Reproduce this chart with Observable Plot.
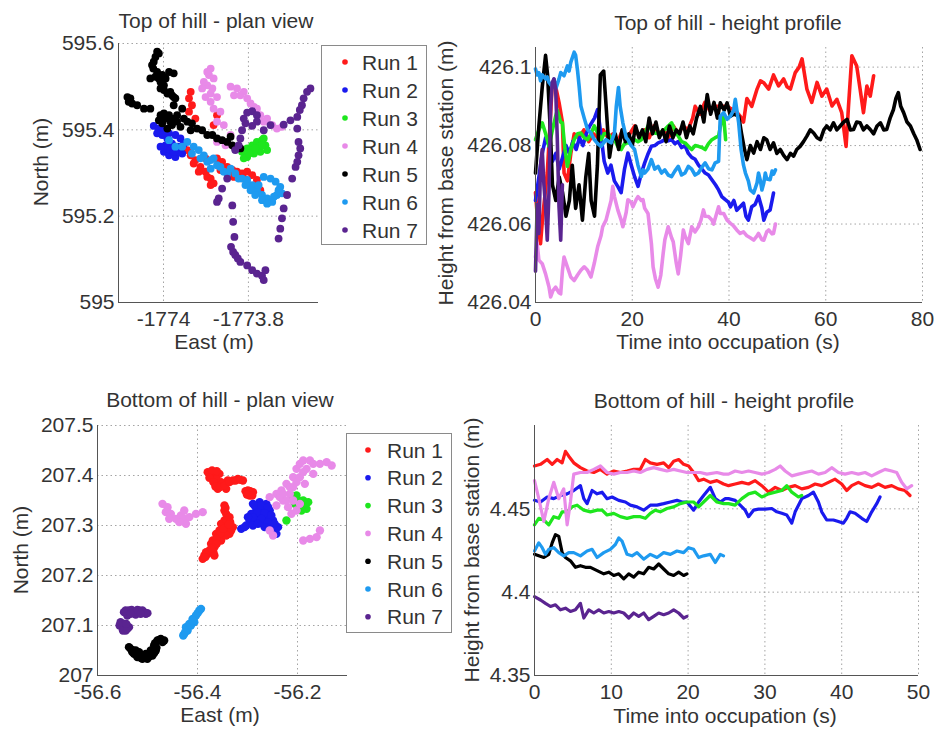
<!DOCTYPE html>
<html><head><meta charset="utf-8">
<script src="https://cdn.jsdelivr.net/npm/d3@7"></script>
<script src="https://cdn.jsdelivr.net/npm/@observablehq/plot@0.6"></script>
<style>
body{margin:0;background:#fff;}
#fig{position:relative;width:936px;height:729px;overflow:hidden;background:#fff;}
</style></head>
<body><div id="fig"></div>
<script>
const FONT = "'Liberation Sans', Arial, Helvetica, sans-serif";
const runNames = ["Run 1","Run 2","Run 3","Run 4","Run 5","Run 6","Run 7"];
const runColors = ["#ff1a1a","#1a1aee","#1ee61e","#e88ae8","#000000","#1e9af0","#5a2490"];

const panelTitles = ["Top of hill - plan view","Top of hill - height profile","Bottom of hill - plan view","Bottom of hill - height profile"];
const eastLabel = "East (m)", northLabel = "North (m)";
const timeLabel = "Time into occupation (s)", heightLabel = "Height from base station (m)";

// ---------- ticks ----------
const topPlanEastTicks = [-1774, -1773.8];
const topPlanNorthTicks = [595, 595.2, 595.4, 595.6];
const topHeightTimeTicks = [0, 20, 40, 60, 80];
const topHeightTicks = [426.04, 426.06, 426.08, 426.1];
const bottomPlanEastTicks = [-56.6, -56.4, -56.2];
const bottomPlanNorthTicks = [207, 207.1, 207.2, 207.3, 207.4, 207.5];
const bottomHeightTimeTicks = [0, 10, 20, 30, 40, 50];
const bottomHeightTicks = [4.35, 4.4, 4.45];

// ---------- Top of hill - plan view [East, North] ----------
const topPlanRun1 = [[-1773.944,595.353],[-1773.936,595.341],[-1773.925,595.330],[-1773.913,595.314],[-1773.901,595.303],[-1773.889,595.287],[-1773.882,595.276],[-1773.874,595.334],[-1773.862,595.326],[-1773.850,595.314],[-1773.838,595.307],[-1773.827,595.303],[-1773.815,595.299],[-1773.803,595.303],[-1773.791,595.295],[-1773.780,595.284],[-1773.772,595.260],[-1773.936,595.488],[-1773.940,595.473],[-1773.933,595.457],[-1773.940,595.442],[-1773.925,595.426],[-1773.874,595.434],[-1773.882,595.411],[-1773.901,595.334],[-1773.929,595.322],[-1773.917,595.303],[-1773.897,595.291],[-1773.889,595.272],[-1773.866,595.307],[-1773.846,595.303],[-1773.834,595.291],[-1773.811,595.287]];
const topPlanRun2 = [[-1774.023,595.409],[-1774.011,595.403],[-1773.999,595.399],[-1773.987,595.392],[-1773.972,595.388],[-1773.960,595.380],[-1774.003,595.388],[-1773.991,595.380],[-1773.980,595.368],[-1773.968,595.361],[-1773.999,595.349],[-1773.987,595.341],[-1773.972,595.337],[-1773.956,595.345],[-1773.952,595.368],[-1773.995,595.364],[-1773.984,595.353],[-1773.964,595.349],[-1774.015,595.392],[-1774.007,595.361],[-1773.976,595.349],[-1773.960,595.361]];
const topPlanRun3 = [[-1773.815,595.349],[-1773.803,595.357],[-1773.791,595.364],[-1773.780,595.372],[-1773.768,595.376],[-1773.760,595.364],[-1773.756,595.353],[-1773.772,595.349],[-1773.787,595.345],[-1773.803,595.337],[-1773.811,595.334],[-1773.795,595.353],[-1773.776,595.361],[-1773.764,595.380],[-1773.799,595.345],[-1773.768,595.364],[-1773.784,595.357]];
const topPlanRun4 = [[-1773.889,595.542],[-1773.893,595.527],[-1773.882,595.519],[-1773.897,595.503],[-1773.909,595.496],[-1773.889,595.484],[-1773.874,595.476],[-1773.889,595.465],[-1773.882,595.449],[-1773.866,595.442],[-1773.874,595.419],[-1773.858,595.411],[-1773.842,595.500],[-1773.827,595.496],[-1773.811,595.488],[-1773.803,595.473],[-1773.795,595.461],[-1773.780,595.449],[-1773.772,595.434],[-1773.756,595.426],[-1773.744,595.411],[-1773.733,595.403],[-1773.721,595.407],[-1773.842,595.388],[-1773.874,595.372],[-1773.854,595.364],[-1773.834,595.480],[-1773.905,595.511],[-1773.897,595.534],[-1773.885,595.496],[-1773.901,595.476],[-1773.819,595.480],[-1773.787,595.453],[-1773.764,595.419]];
const topPlanRun5 = [[-1774.011,595.577],[-1774.015,595.581],[-1774.023,595.558],[-1774.027,595.550],[-1774.015,595.534],[-1774.031,595.519],[-1774.007,595.511],[-1773.987,595.534],[-1773.976,595.531],[-1774.007,595.496],[-1773.991,595.484],[-1773.976,595.476],[-1773.984,595.488],[-1773.999,595.503],[-1774.019,595.523],[-1774.019,595.569],[-1774.024,595.542],[-1774.003,595.527],[-1773.995,595.519],[-1774.011,595.519],[-1773.999,595.492],[-1773.980,595.480],[-1773.972,595.473],[-1774.085,595.476],[-1774.082,595.465],[-1774.074,595.461],[-1774.062,595.457],[-1774.046,595.449],[-1774.031,595.449],[-1774.078,595.473],[-1774.007,595.434],[-1773.995,595.426],[-1773.984,595.419],[-1773.976,595.457],[-1773.968,595.434],[-1773.956,595.449],[-1773.944,595.419],[-1773.933,595.415],[-1773.921,595.403],[-1773.909,595.399],[-1773.897,595.388],[-1773.885,595.388],[-1773.874,595.380],[-1773.862,595.376],[-1773.850,595.372],[-1773.838,595.364],[-1773.831,595.357],[-1773.819,595.357],[-1773.842,595.384],[-1773.991,595.403],[-1774.003,595.415],[-1773.976,595.426],[-1773.960,595.407],[-1773.936,595.399],[-1774.011,595.422],[-1773.999,595.438],[-1773.987,595.434],[-1773.980,595.411],[-1773.968,595.419],[-1773.952,595.426]];
const topPlanRun6 = [[-1773.987,595.376],[-1773.972,595.361],[-1773.944,595.372],[-1773.929,595.361],[-1773.917,595.353],[-1773.905,595.341],[-1773.897,595.326],[-1773.889,595.310],[-1773.874,595.318],[-1773.858,595.303],[-1773.842,595.310],[-1773.831,595.299],[-1773.815,595.287],[-1773.803,595.284],[-1773.791,595.272],[-1773.780,595.260],[-1773.768,595.249],[-1773.756,595.241],[-1773.744,595.233],[-1773.733,595.249],[-1773.725,595.268],[-1773.736,595.280],[-1773.748,595.287],[-1773.764,595.291],[-1773.776,595.272],[-1773.721,595.253],[-1773.913,595.334],[-1773.882,595.334],[-1773.956,595.361],[-1773.933,595.345],[-1773.889,595.330],[-1773.866,595.314],[-1773.850,595.299],[-1773.823,595.287],[-1773.807,595.272],[-1773.795,595.260],[-1773.784,595.249],[-1773.768,595.237],[-1773.756,595.229],[-1773.740,595.245],[-1773.729,595.260]];
const topPlanRun7 = [[-1773.811,595.426],[-1773.803,595.440],[-1773.791,595.443],[-1773.780,595.434],[-1773.780,595.419],[-1773.791,595.409],[-1773.807,595.415],[-1773.815,595.399],[-1773.819,595.380],[-1773.823,595.364],[-1773.764,595.399],[-1773.748,595.411],[-1773.654,595.496],[-1773.662,595.488],[-1773.670,595.473],[-1773.674,595.457],[-1773.679,595.446],[-1773.685,595.430],[-1773.701,595.422],[-1773.717,595.412],[-1773.685,595.403],[-1773.682,595.372],[-1773.678,595.357],[-1773.682,595.341],[-1773.685,595.326],[-1773.689,595.314],[-1773.697,595.287],[-1773.709,595.249],[-1773.717,595.218],[-1773.721,595.195],[-1773.725,595.171],[-1773.729,595.148],[-1773.831,595.353],[-1773.850,595.287],[-1773.862,595.264],[-1773.870,595.241],[-1773.874,595.233],[-1773.838,595.225],[-1773.836,595.187],[-1773.833,595.152],[-1773.841,595.129],[-1773.836,595.117],[-1773.831,595.110],[-1773.825,595.102],[-1773.819,595.094],[-1773.803,595.086],[-1773.791,595.075],[-1773.780,595.067],[-1773.768,595.062],[-1773.764,595.052],[-1773.760,595.075]];

// ---------- Top of hill - height profile [time s, height m] ----------
const topHeightRun1 = [[0,426.068],[0.5,426.060],[1.04,426.055],[1.5,426.062],[2.43,426.073],[3.13,426.088],[3.47,426.096],[4.17,426.095],[4.86,426.091],[5.56,426.086],[5.9,426.073],[6.6,426.071],[7.3,426.078],[8,426.083],[9,426.082],[10,426.084],[11,426.081],[12,426.083],[13,426.082],[14,426.084],[15,426.082],[16,426.083],[17,426.081],[18,426.084],[19,426.082],[20.5,426.085],[21.5,426.082],[22.5,426.084],[23.5,426.082],[24.5,426.085],[25.5,426.083],[26.5,426.084],[27.5,426.082],[28.5,426.085],[29.5,426.083],[30.5,426.085],[31.5,426.084],[32.5,426.087],[33,426.090],[34,426.088],[35,426.091],[36,426.089],[37,426.090],[38.2,426.090],[39.6,426.090],[40.3,426.0895],[41.3,426.089],[42.3,426.0875],[43,426.086],[43.7,426.092],[44.7,426.090],[45.8,426.0944],[46.5,426.0965],[47.2,426.096],[48.2,426.0944],[49.2,426.098],[50.25,426.0952],[51.3,426.097],[52,426.095],[52.7,426.0944],[53.7,426.0986],[54.5,426.100],[55.1,426.1021],[56.1,426.0944],[57.1,426.091],[58.2,426.0961],[59.2,426.0926],[60.2,426.0944],[61.3,426.0901],[62.3,426.0918],[63.3,426.0884],[64.2,426.0798],[64.7,426.090],[65.4,426.1029],[66.4,426.1003],[67.1,426.0944],[67.8,426.0884],[68.5,426.0952],[69.2,426.0926],[69.9,426.0978]];
const topHeightRun2 = [[0,426.066],[0.7,426.072],[1.4,426.078],[2.1,426.082],[2.8,426.080],[3.5,426.076],[4.2,426.078],[4.9,426.074],[5.6,426.077],[6.3,426.080],[7,426.078],[7.7,426.081],[8.4,426.079],[9.1,426.082],[9.8,426.080],[10.5,426.083],[11.2,426.085],[12.2,426.087],[12.85,426.0892],[13.5,426.083],[14.2,426.076],[14.93,426.073],[15.6,426.075],[16.3,426.071],[17,426.0696],[17.7,426.068],[18.4,426.074],[19.1,426.0781],[19.8,426.075],[20.5,426.072],[21.2,426.0696],[21.9,426.073],[22.57,426.0756],[23.3,426.078],[23.96,426.0798],[24.65,426.080],[25.35,426.0807],[26,426.081],[26.74,426.0815],[27.4,426.0812],[28.13,426.0815],[28.8,426.0805],[29.5,426.081],[30.2,426.0795],[30.9,426.080],[31.6,426.078],[32.3,426.077],[33,426.0765],[33.7,426.075],[34.4,426.074],[35.07,426.073],[35.76,426.0725],[36.46,426.0713],[37.2,426.070],[37.85,426.0687],[38.5,426.067],[39.24,426.0662],[39.93,426.0655],[40.3,426.0644],[41,426.066],[41.6,426.0635],[42.3,426.0644],[43,426.0653],[43.5,426.062],[44,426.061],[44.7,426.0644],[45.4,426.065],[46.1,426.0671],[46.8,426.064],[47.2,426.061],[47.8,426.063],[48.5,426.0636],[48.9,426.066],[49.2,426.0679]];
const topHeightRun3 = [[0,426.0815],[0.7,426.084],[1.39,426.0858],[2.1,426.083],[2.78,426.0798],[3.5,426.084],[4.17,426.0875],[4.51,426.089],[5.2,426.086],[5.56,426.0858],[6.1,426.079],[6.6,426.0747],[7.3,426.079],[7.99,426.0815],[8.7,426.083],[9.38,426.0832],[10.07,426.082],[10.76,426.0815],[11.46,426.083],[12.15,426.085],[12.85,426.0832],[13.54,426.0815],[14.2,426.083],[14.93,426.0832],[15.6,426.082],[16.32,426.0815],[17.01,426.0798],[17.71,426.079],[18.4,426.0805],[19.1,426.0807],[19.79,426.0807],[20.5,426.0815],[21.18,426.081],[21.88,426.0815],[22.57,426.083],[23.26,426.085],[23.96,426.084],[24.65,426.0832],[25.35,426.083],[26.05,426.0835],[26.74,426.0841],[27.43,426.085],[28.13,426.0858],[28.8,426.084],[29.51,426.0824],[30.2,426.081],[30.9,426.0807],[31.6,426.0798],[32.29,426.079],[32.99,426.080],[33.68,426.0798],[34.4,426.0795],[35.07,426.079],[35.76,426.0805],[36.46,426.0815],[37.15,426.082],[37.85,426.0824],[38.5,426.0867],[38.89,426.0875],[39.3,426.0815]];
const topHeightRun4 = [[0,426.0516],[0.35,426.055],[0.7,426.0508],[1.39,426.0499],[2.08,426.0473],[2.78,426.044],[3.13,426.0414],[3.6,426.043],[4.17,426.0439],[4.86,426.0425],[5.21,426.0422],[5.56,426.048],[5.9,426.0516],[6.6,426.049],[7.29,426.0465],[7.99,426.0456],[8.7,426.047],[9.38,426.0482],[10.07,426.0491],[10.76,426.0482],[11.46,426.0465],[12.15,426.050],[12.85,426.0542],[13.54,426.057],[13.89,426.0593],[14.58,426.061],[14.93,426.0627],[15.63,426.066],[15.97,426.0696],[16.32,426.067],[17.01,426.0636],[17.71,426.061],[18.06,426.0593],[18.75,426.063],[19.1,426.0662],[19.79,426.0655],[20.14,426.0644],[20.8,426.0662],[21.18,426.067],[21.88,426.066],[22.22,426.0662],[22.57,426.064],[23.26,426.0627],[23.96,426.055],[24.31,426.0491],[24.8,426.046],[25.35,426.0439],[25.9,426.047],[26.39,426.0525],[26.74,426.056],[27.43,426.0593],[28.13,426.0565],[28.47,426.0555],[29.1,426.050],[29.51,426.0473],[30,426.052],[30.56,426.0585],[30.9,426.057],[31.6,426.055],[32.29,426.0593],[32.99,426.058],[33.68,426.0593],[34.2,426.061],[34.72,426.0636],[35.07,426.062],[35.76,426.0619],[36.46,426.061],[36.81,426.060],[37.85,426.0644],[38.2,426.0627],[38.89,426.0627],[39.6,426.061],[40.3,426.0602],[40.95,426.0595],[41.6,426.0585],[42.3,426.0576],[43,426.058],[43.7,426.057],[44.4,426.0565],[45.1,426.0559],[45.8,426.057],[46.1,426.0576],[46.8,426.056],[47.2,426.0559],[47.8,426.058],[48.2,426.0585],[48.9,426.0575],[49.2,426.0576],[49.6,426.060]];
const topHeightRun5 = [[0,426.073],[0.7,426.085],[1.4,426.095],[2.08,426.103],[2.5,426.098],[3.1,426.083],[3.5,426.070],[4.2,426.066],[4.9,426.072],[5.6,426.068],[6.3,426.062],[7,426.066],[7.6,426.075],[8.3,426.064],[9,426.070],[9.7,426.061],[10.4,426.072],[11,426.078],[11.5,426.066],[12.2,426.062],[12.8,426.075],[13.4,426.098],[14.1,426.099],[14.6,426.090],[15.3,426.077],[15.8,426.081],[16.5,426.083],[17.2,426.079],[17.9,426.084],[18.6,426.081],[19.3,426.083],[20,426.080],[20.7,426.085],[21.4,426.082],[22.1,426.084],[22.8,426.081],[23.5,426.087],[24.2,426.083],[24.9,426.086],[25.6,426.082],[26.3,426.084],[27,426.081],[27.7,426.085],[28.4,426.082],[29.1,426.084],[29.8,426.083],[30.5,426.086],[31.2,426.082],[31.9,426.085],[32.6,426.083],[33.3,426.087],[34.1,426.090],[34.8,426.086],[35.5,426.093],[36.2,426.088],[36.9,426.091],[37.6,426.087],[38.2,426.0909],[39,426.089],[39.6,426.0909],[40.3,426.0875],[41,426.088],[42,426.0875],[42.6,426.083],[43.2,426.079],[43.7,426.0764],[44.4,426.080],[45.1,426.0781],[45.8,426.081],[46.5,426.079],[47.2,426.082],[47.8,426.0815],[48.5,426.079],[49.2,426.0807],[49.9,426.078],[50.6,426.079],[51.3,426.0775],[52,426.0764],[52.7,426.078],[53.35,426.0773],[54,426.079],[54.7,426.0798],[55.4,426.081],[56.1,426.0824],[56.8,426.084],[57.5,426.0832],[58.2,426.082],[58.9,426.0815],[59.6,426.084],[60.2,426.085],[60.9,426.084],[61.6,426.0858],[62.3,426.084],[63,426.085],[63.7,426.086],[64.4,426.0867],[65.1,426.084],[65.75,426.0841],[66.4,426.086],[67.1,426.0858],[67.8,426.084],[68.5,426.085],[69.2,426.0841],[69.9,426.083],[70.6,426.085],[71.3,426.0858],[72,426.084],[72.6,426.0841],[73.3,426.087],[74,426.0892],[74.5,426.092],[75,426.0935],[75.5,426.090],[76.1,426.0884],[76.8,426.086],[77.5,426.085],[78.2,426.083],[78.8,426.0815],[79.5,426.079]];
const topHeightRun6 = [[0,426.0995],[0.35,426.098],[0.7,426.0986],[1.04,426.0965],[1.39,426.098],[2.08,426.097],[2.43,426.0975],[2.78,426.0961],[3.47,426.095],[3.82,426.0969],[4.17,426.0944],[4.86,426.097],[5.21,426.0986],[5.9,426.0978],[6.6,426.1003],[6.94,426.099],[7.29,426.1012],[7.99,426.1038],[8.3,426.103],[8.7,426.099],[9.03,426.095],[9.38,426.0901],[10.07,426.087],[10.76,426.0841],[11.46,426.0832],[12.15,426.0815],[12.85,426.0805],[13.54,426.0798],[14.58,426.0815],[15.63,426.0807],[16.32,426.0832],[16.7,426.090],[17.15,426.0948],[17.5,426.090],[18.06,426.0858],[18.75,426.082],[19.1,426.0815],[19.79,426.080],[20.49,426.079],[21.18,426.075],[21.88,426.0721],[22.22,426.0738],[22.57,426.073],[23.26,426.074],[23.96,426.0764],[24.65,426.074],[25.35,426.0747],[26.05,426.073],[26.74,426.0738],[27.43,426.0725],[28.13,426.0721],[28.8,426.0735],[29.51,426.0747],[30.2,426.0725],[30.9,426.073],[31.6,426.0747],[32.29,426.074],[32.99,426.0725],[33.68,426.073],[34.4,426.0745],[35.07,426.0756],[35.76,426.0741],[36.46,426.0738],[37.15,426.0756],[37.85,426.076],[38.2,426.0875],[38.89,426.0884],[39.6,426.0867],[40.3,426.0875],[40.95,426.089],[41.3,426.0918],[42,426.0858],[42.5,426.079],[43,426.075],[43.4,426.073],[44,426.071],[44.4,426.0687],[45.1,426.0679],[45.8,426.0705],[46.1,426.073],[46.5,426.071],[46.8,426.0687],[47.2,426.0705],[47.5,426.073],[47.8,426.0715],[48.5,426.0713],[48.9,426.0735],[49.2,426.0727],[49.6,426.0738]];
const topHeightRun7 = [[0,426.048],[0.35,426.065],[0.7,426.0576],[1.04,426.075],[1.39,426.079],[1.74,426.070],[2.08,426.0644],[2.43,426.0559],[2.78,426.068],[3.13,426.090],[3.47,426.0961],[3.82,426.097],[4.17,426.0944],[4.51,426.0815],[4.86,426.0644],[5.21,426.0559],[5.56,426.070]];

// ---------- Bottom of hill - plan view [East, North] ----------
const bottomPlanRun1 = [[-56.3762,207.4033],[-56.3662,207.4067],[-56.3561,207.4033],[-56.3695,207.3933],[-56.3628,207.3833],[-56.3595,207.3733],[-56.3494,207.3833],[-56.3394,207.39],[-56.3293,207.39],[-56.3193,207.3933],[-56.3092,207.39],[-56.3427,207.3733],[-56.2992,207.37],[-56.2958,207.36],[-56.2891,207.3667],[-56.3528,207.3867],[-56.3729,207.40],[-56.3628,207.3933],[-56.3796,207.4067],[-56.3709,207.41],[-56.3615,207.4087],[-56.3762,207.3953],[-56.3682,207.3867],[-56.3642,207.378],[-56.3548,207.3767],[-56.3461,207.38],[-56.336,207.3867],[-56.324,207.39],[-56.3146,207.3913],[-56.3039,207.3687],[-56.2945,207.3687],[-56.2905,207.36],[-56.3012,207.362],[-56.3461,207.34],[-56.3427,207.3233],[-56.3461,207.31],[-56.3494,207.2967],[-56.3394,207.2967],[-56.3293,207.2967],[-56.336,207.2833],[-56.3494,207.28],[-56.3595,207.2767],[-56.3695,207.27],[-56.3561,207.29],[-56.3729,207.2633],[-56.3762,207.25],[-56.3863,207.24],[-56.3896,207.2333],[-56.3662,207.24],[-56.3796,207.2433],[-56.3394,207.3067],[-56.336,207.3167],[-56.3528,207.3033],[-56.3427,207.2867],[-56.3628,207.2833],[-56.3528,207.27],[-56.3662,207.2567],[-56.3461,207.33],[-56.3441,207.3353],[-56.3414,207.31],[-56.3347,207.3067],[-56.3327,207.29],[-56.3427,207.28],[-56.3548,207.2833],[-56.3628,207.2733],[-56.3615,207.2633],[-56.3709,207.2567],[-56.3682,207.2467],[-56.3829,207.2467],[-56.3843,207.2367],[-56.3729,207.2533],[-56.3481,207.2933],[-56.3374,207.302]];
const bottomPlanRun2 = [[-56.2891,207.3433],[-56.2757,207.3467],[-56.2623,207.3433],[-56.2824,207.3333],[-56.269,207.3333],[-56.2556,207.33],[-56.2925,207.3233],[-56.2757,207.32],[-56.2623,207.3167],[-56.2489,207.31],[-56.2958,207.31],[-56.2824,207.31],[-56.269,207.3033],[-56.2556,207.2967],[-56.3025,207.30],[-56.3126,207.2933],[-56.2891,207.30],[-56.2422,207.2833],[-56.2389,207.2967],[-56.2858,207.34],[-56.2724,207.34],[-56.259,207.3367],[-56.2791,207.3267],[-56.2657,207.3247],[-56.2523,207.32],[-56.2724,207.3133],[-56.259,207.3067],[-56.2456,207.3033],[-56.2791,207.3033],[-56.2657,207.2967],[-56.2891,207.3167],[-56.2523,207.29],[-56.2992,207.3167],[-56.3059,207.2967]];
const bottomPlanRun3 = [[-56.2121,207.36],[-56.202,207.3533],[-56.1953,207.3467],[-56.1886,207.35],[-56.1786,207.3467],[-56.1819,207.3333],[-56.192,207.33],[-56.2054,207.3433],[-56.2221,207.31],[-56.2087,207.3567],[-56.1987,207.35],[-56.1853,207.3433],[-56.192,207.34],[-56.202,207.36]];
const bottomPlanRun4 = [[-56.47,207.3433],[-56.46,207.3367],[-56.4633,207.3267],[-56.4533,207.3233],[-56.4566,207.3133],[-56.4432,207.3133],[-56.4332,207.32],[-56.4265,207.33],[-56.4231,207.3133],[-56.4164,207.3167],[-56.403,207.3233],[-56.3896,207.3267],[-56.4231,207.3033],[-56.4365,207.3067],[-56.2556,207.3567],[-56.2422,207.3633],[-56.2322,207.37],[-56.2221,207.3833],[-56.2087,207.3967],[-56.202,207.4133],[-56.1953,207.4233],[-56.1886,207.43],[-56.1752,207.43],[-56.1685,207.4233],[-56.1551,207.4233],[-56.1417,207.4267],[-56.1317,207.42],[-56.2154,207.3633],[-56.2288,207.35],[-56.2188,207.3367],[-56.2121,207.3233],[-56.202,207.33],[-56.1953,207.3433],[-56.1853,207.3833],[-56.1685,207.4033],[-56.2489,207.28],[-56.2556,207.29],[-56.1886,207.27],[-56.1752,207.2733],[-56.1618,207.2767],[-56.1551,207.29],[-56.2422,207.34],[-56.2355,207.3567],[-56.2087,207.3767],[-56.202,207.3867],[-56.1953,207.3967],[-56.1886,207.4067],[-56.1819,207.4133],[-56.2288,207.3633],[-56.2221,207.35],[-56.2087,207.35],[-56.2154,207.3767]];
const bottomPlanRun5 = [[-56.5337,207.0533],[-56.527,207.0433],[-56.5203,207.0367],[-56.5102,207.0333],[-56.5002,207.0333],[-56.4901,207.04],[-56.4834,207.05],[-56.4868,207.06],[-56.4801,207.07],[-56.4734,207.0733],[-56.47,207.0667],[-56.5303,207.0467],[-56.5035,207.0433],[-56.4935,207.05],[-56.5236,207.05],[-56.537,207.0567],[-56.529,207.05],[-56.5169,207.04],[-56.5136,207.0353],[-56.5049,207.0367],[-56.4968,207.038],[-56.4868,207.0447],[-56.4821,207.0553],[-56.4848,207.0647],[-56.4767,207.0713],[-56.4667,207.07],[-56.5169,207.0467]];
const bottomPlanRun6 = [[-56.4265,207.0833],[-56.4231,207.0967],[-56.4164,207.1033],[-56.4097,207.1133],[-56.403,207.12],[-56.3963,207.13],[-56.4198,207.09],[-56.4064,207.1067],[-56.4285,207.08],[-56.4131,207.10],[-56.3997,207.1247],[-56.393,207.1333],[-56.4245,207.0867],[-56.4097,207.11]];
const bottomPlanRun7 = [[-56.547,207.1267],[-56.537,207.13],[-56.527,207.1267],[-56.5169,207.13],[-56.5069,207.1267],[-56.5002,207.1247],[-56.5404,207.12],[-56.5236,207.122],[-56.5538,207.1067],[-56.5504,207.0967],[-56.5437,207.09],[-56.537,207.0967],[-56.547,207.1033],[-56.5437,207.13],[-56.5317,207.1313],[-56.5203,207.1313],[-56.5102,207.13],[-56.5035,207.1233],[-56.5337,207.1233],[-56.5136,207.1233],[-56.5558,207.10],[-56.5491,207.09],[-56.5404,207.0933],[-56.5424,207.1033]];

// ---------- Bottom of hill - height profile [time s, height m] ----------
const bottomHeightRun1 = [[0,4.4757],[0.78,4.4767],[1.65,4.4796],[2.3,4.4767],[2.95,4.4796],[3.6,4.4776],[4.03,4.4845],[4.46,4.4816],[5.11,4.4776],[5.98,4.4747],[6.85,4.4727],[7.72,4.4718],[8.58,4.4737],[9.45,4.4708],[10.32,4.4727],[11.18,4.4718],[12.05,4.4727],[12.92,4.4737],[13.78,4.4737],[14.43,4.4796],[15.08,4.4776],[15.95,4.4767],[16.82,4.4776],[17.47,4.4747],[18.12,4.4786],[18.77,4.4796],[19.42,4.4767],[20.07,4.4757],[20.72,4.4718],[21.37,4.4669],[22.02,4.4678],[22.89,4.4659],[23.75,4.4669],[24.62,4.4649],[25.27,4.4639],[26.13,4.4649],[27.0,4.4659],[27.87,4.4649],[28.73,4.4669],[29.6,4.4639],[30.47,4.46],[31.34,4.4629],[32.2,4.461],[33.07,4.4629],[33.94,4.4639],[34.8,4.462],[35.67,4.4629],[36.54,4.4649],[37.4,4.4639],[38.27,4.4659],[39.14,4.4678],[40.0,4.4649],[40.65,4.461],[41.3,4.4639],[42.17,4.4659],[43.04,4.4639],[43.91,4.4629],[44.77,4.4649],[45.64,4.4629],[46.51,4.4639],[47.37,4.462],[48.24,4.461],[48.89,4.458]];
const bottomHeightRun2 = [[0,4.4551],[0.78,4.4541],[1.65,4.4571],[2.51,4.4561],[3.38,4.458],[4.25,4.459],[5.11,4.461],[5.98,4.4639],[6.42,4.4561],[6.85,4.4531],[7.5,4.461],[8.15,4.459],[8.8,4.46],[9.45,4.4561],[10.1,4.4571],[10.97,4.4551],[11.83,4.4541],[12.48,4.4522],[13.35,4.4512],[14.22,4.4492],[15.08,4.4522],[15.95,4.4522],[16.82,4.4531],[17.69,4.4541],[18.55,4.4551],[19.2,4.4541],[19.85,4.4541],[20.72,4.4492],[21.37,4.4541],[22.02,4.458],[22.89,4.4629],[23.54,4.4561],[24.19,4.4541],[24.84,4.4561],[25.27,4.4561],[26.13,4.4551],[26.78,4.4522],[27.43,4.4492],[27.87,4.4453],[28.52,4.4492],[29.17,4.4498],[30.04,4.4498],[30.9,4.4502],[31.55,4.4482],[32.2,4.4473],[32.85,4.4463],[33.5,4.4414],[33.94,4.4482],[34.8,4.4561],[35.67,4.458],[36.32,4.46],[36.97,4.4541],[37.4,4.4482],[38.05,4.4433],[38.92,4.4433],[39.57,4.4424],[40.22,4.4414],[40.65,4.4443],[41.09,4.4482],[41.74,4.4473],[42.61,4.4443],[43.26,4.4424],[43.91,4.4482],[44.56,4.4531],[44.99,4.4571]];
const bottomHeightRun3 = [[0,4.4404],[0.56,4.4443],[1.21,4.4433],[1.86,4.4404],[2.51,4.4453],[3.16,4.4443],[3.6,4.4482],[4.25,4.4482],[4.9,4.4512],[5.55,4.4522],[6.42,4.4492],[7.28,4.4482],[8.15,4.4492],[8.8,4.4492],[9.45,4.4463],[10.32,4.4473],[11.18,4.4453],[12.05,4.4443],[12.92,4.4453],[13.78,4.4453],[14.43,4.4443],[15.08,4.4473],[15.73,4.4492],[16.38,4.4482],[17.25,4.4502],[18.12,4.4512],[18.99,4.4531],[19.85,4.4541],[20.72,4.4541],[21.37,4.4512],[22.02,4.4541],[22.89,4.458],[23.75,4.4541],[24.62,4.4531],[25.27,4.4531],[26.13,4.4522],[27.0,4.4561],[27.87,4.459],[28.73,4.46],[29.6,4.4571],[30.47,4.459],[31.34,4.46],[32.2,4.461],[32.85,4.4639],[33.5,4.46],[34.37,4.4571],[34.8,4.458]];
const bottomHeightRun4 = [[0,4.4669],[0.56,4.4561],[1.21,4.4424],[1.86,4.4561],[2.51,4.4659],[3.16,4.4561],[3.81,4.462],[4.25,4.4404],[4.68,4.4541],[5.11,4.4708],[5.98,4.4718],[6.85,4.4718],[7.72,4.4737],[8.58,4.4757],[9.45,4.4718],[10.32,4.4708],[11.18,4.4718],[12.05,4.4718],[12.92,4.4727],[13.78,4.4718],[14.65,4.4737],[15.52,4.4747],[16.38,4.4737],[17.25,4.4727],[18.12,4.4737],[18.99,4.4727],[19.85,4.4718],[20.72,4.4718],[21.59,4.4718],[22.45,4.4708],[23.75,4.4718],[24.62,4.4708],[25.27,4.4708],[26.13,4.4727],[27.0,4.4718],[27.87,4.4727],[28.73,4.4718],[29.6,4.4708],[30.47,4.4718],[31.34,4.4737],[31.99,4.4757],[32.64,4.4727],[33.5,4.4698],[34.37,4.4708],[35.24,4.4718],[36.1,4.4727],[36.97,4.4708],[37.84,4.4718],[38.7,4.4747],[39.57,4.4718],[40.44,4.4708],[41.3,4.4718],[42.17,4.4708],[43.04,4.4718],[43.91,4.4698],[44.77,4.4718],[45.64,4.4737],[46.51,4.4727],[47.16,4.4718],[47.81,4.4659],[48.46,4.462],[49.11,4.4639]];
const bottomHeightRun5 = [[0,4.4227],[0.56,4.4218],[1.21,4.4208],[1.86,4.4227],[2.3,4.4296],[2.73,4.4345],[3.16,4.4335],[3.6,4.4237],[4.03,4.4208],[4.68,4.4188],[5.33,4.4149],[5.98,4.4159],[6.63,4.4149],[7.28,4.4149],[8.15,4.4129],[9.02,4.411],[9.67,4.412],[10.32,4.41],[10.97,4.411],[11.62,4.408],[12.27,4.411],[12.92,4.409],[13.57,4.412],[14.22,4.411],[14.87,4.4149],[15.52,4.4139],[16.17,4.4169],[16.82,4.4139],[17.47,4.411],[18.12,4.41],[18.77,4.412],[19.42,4.41],[19.85,4.411]];
const bottomHeightRun6 = [[0,4.4247],[0.56,4.4296],[1.0,4.4267],[1.43,4.4227],[1.86,4.4257],[2.51,4.4267],[3.16,4.4237],[3.81,4.4218],[4.46,4.4237],[5.11,4.4237],[5.98,4.4218],[6.85,4.4247],[7.5,4.4257],[8.15,4.4208],[9.02,4.4237],[9.88,4.4257],[10.53,4.4286],[10.97,4.4325],[11.4,4.4306],[12.05,4.4227],[12.7,4.4218],[13.35,4.4237],[14.22,4.4198],[15.08,4.4227],[15.95,4.4208],[16.82,4.4237],[17.69,4.4227],[18.55,4.4247],[19.42,4.4237],[20.07,4.4267],[20.72,4.4257],[21.37,4.4208],[22.02,4.4218],[22.89,4.4227],[23.54,4.4178],[24.19,4.4227],[24.62,4.4218]];
const bottomHeightRun7 = [[0,4.3973],[0.78,4.3953],[1.43,4.3933],[2.08,4.3914],[2.73,4.3924],[3.38,4.3894],[4.03,4.3904],[4.68,4.3884],[5.33,4.3894],[5.98,4.3933],[6.42,4.3845],[7.07,4.3894],[7.72,4.3875],[8.37,4.3894],[9.02,4.3875],[9.67,4.3884],[10.32,4.3875],[10.97,4.3884],[11.62,4.3875],[12.27,4.3845],[12.92,4.3875],[13.57,4.3855],[14.22,4.3875],[14.87,4.3835],[15.52,4.3855],[16.17,4.3875],[16.82,4.3865],[17.47,4.3875],[18.12,4.3894],[18.77,4.3875],[19.42,4.3845],[19.85,4.3855]];

const topPlan = [topPlanRun1, topPlanRun2, topPlanRun3, topPlanRun4, topPlanRun5, topPlanRun6, topPlanRun7];
const topHeight = [topHeightRun1, topHeightRun2, topHeightRun3, topHeightRun4, topHeightRun5, topHeightRun6, topHeightRun7];
const bottomPlan = [bottomPlanRun1, bottomPlanRun2, bottomPlanRun3, bottomPlanRun4, bottomPlanRun5, bottomPlanRun6, bottomPlanRun7];
const bottomHeight = [bottomHeightRun1, bottomHeightRun2, bottomHeightRun3, bottomHeightRun4, bottomHeightRun5, bottomHeightRun6, bottomHeightRun7];

// ---------- drawing ----------
const fig = document.getElementById("fig");
const fmt = d => String(+d.toFixed(4));
const gridStyle = {stroke: "#9a9a9a", strokeOpacity: 0.9, strokeDasharray: "1.5,3"};

function panel(cfg) {
  const svg = Plot.plot({
    width: cfg.width, height: cfg.height,
    marginTop: cfg.m[0], marginRight: cfg.m[1], marginBottom: cfg.m[2], marginLeft: cfg.m[3],
    x: {domain: cfg.xDomain}, y: {domain: cfg.yDomain},
    style: {fontFamily: FONT, fontSize: "21px", color: "#333", background: "transparent", overflow: "visible"},
    marks: [
      Plot.gridX(cfg.xTicks, gridStyle),
      Plot.gridY(cfg.yTicks, gridStyle),
      ...cfg.marks,
      Plot.ruleX([cfg.xDomain[0]], {stroke: "#555", strokeWidth: 1}),
      Plot.ruleY([cfg.yDomain[0]], {stroke: "#555", strokeWidth: 1}),
      Plot.axisX({ticks: cfg.xTicks, tickFormat: fmt, tickSize: 0, tickPadding: 9, label: null}),
      Plot.axisY({ticks: cfg.yTicks, tickFormat: fmt, tickSize: 0, tickPadding: 4, label: null})
    ]
  });
  svg.style.position = "absolute";
  svg.style.left = cfg.left + "px";
  svg.style.top = cfg.top + "px";
  fig.appendChild(svg);
}

const dotMarks = (sets, r) => sets.map((s, i) => Plot.dot(s, {x: d => d[0], y: d => d[1], r, fill: runColors[i]}));
const lineMarks = (sets, w) => sets.map((s, i) => Plot.line(s, {x: d => d[0], y: d => d[1], stroke: runColors[i], strokeWidth: w, strokeLinejoin: "round"}));

panel({left: 0, top: 0, width: 330, height: 340, m: [43, 12, 38, 118],
  xDomain: [-1774.106, -1773.635], yDomain: [595, 595.6],
  xTicks: topPlanEastTicks, yTicks: topPlanNorthTicks, marks: dotMarks(topPlan, 3.9)});
panel({left: 460, top: 0, width: 476, height: 340, m: [47, 14, 38, 75],
  xDomain: [0, 80], yDomain: [426.04, 426.105],
  xTicks: topHeightTimeTicks, yTicks: topHeightTicks, marks: lineMarks(topHeight, 3.6)});
panel({left: 0, top: 370, width: 360, height: 359, m: [55, 13, 54, 97],
  xDomain: [-56.6, -56.1], yDomain: [207, 207.5],
  xTicks: bottomPlanEastTicks, yTicks: bottomPlanNorthTicks, marks: dotMarks(bottomPlan, 4.2)});
panel({left: 460, top: 370, width: 476, height: 359, m: [55, 18, 54, 74],
  xDomain: [0, 50], yDomain: [4.35, 4.5],
  xTicks: bottomHeightTimeTicks, yTicks: bottomHeightTicks, marks: lineMarks(bottomHeight, 3.2)});

// ---------- titles, axis labels, legends ----------
const ov = d3.select(fig).append("svg")
  .attr("width", 936).attr("height", 729)
  .style("position", "absolute").style("left", "0px").style("top", "0px")
  .style("font-family", FONT).style("font-size", "21px").attr("fill", "#333");

const texts = [
  {t: panelTitles[0], x: 216, y: 28}, {t: panelTitles[1], x: 728, y: 30},
  {t: panelTitles[2], x: 220, y: 407}, {t: panelTitles[3], x: 724, y: 408},
  {t: eastLabel, x: 214, y: 349}, {t: timeLabel, x: 728, y: 349},
  {t: eastLabel, x: 220, y: 722}, {t: timeLabel, x: 725, y: 723}
];
texts.forEach(d => ov.append("text").attr("x", d.x).attr("y", d.y).attr("text-anchor", "middle").text(d.t));
const vtexts = [
  {t: northLabel, x: 48, y: 162}, {t: heightLabel, x: 453, y: 173},
  {t: northLabel, x: 28, y: 550}, {t: heightLabel, x: 479, y: 550}
];
vtexts.forEach(d => ov.append("text").attr("transform", `translate(${d.x},${d.y}) rotate(-90)`).attr("text-anchor", "middle").text(d.t));

function legend(x0, y0, w, h, mx, tx, cy0, step) {
  const g = ov.append("g");
  g.append("rect").attr("x", x0 + 0.5).attr("y", y0 + 0.5).attr("width", w).attr("height", h)
    .attr("fill", "#fff").attr("stroke", "#8a8a8a");
  runNames.forEach((n, i) => {
    const cy = cy0 + i * step;
    g.append("circle").attr("cx", mx).attr("cy", cy).attr("r", 2.8).attr("fill", runColors[i]);
    g.append("text").attr("x", tx).attr("y", cy + 7.5).text(n);
  });
}
legend(321, 45, 105, 199, 345, 362, 62, 28);
legend(346, 433, 105, 199, 368, 387, 450, 27.8);
</script>
</body></html>
